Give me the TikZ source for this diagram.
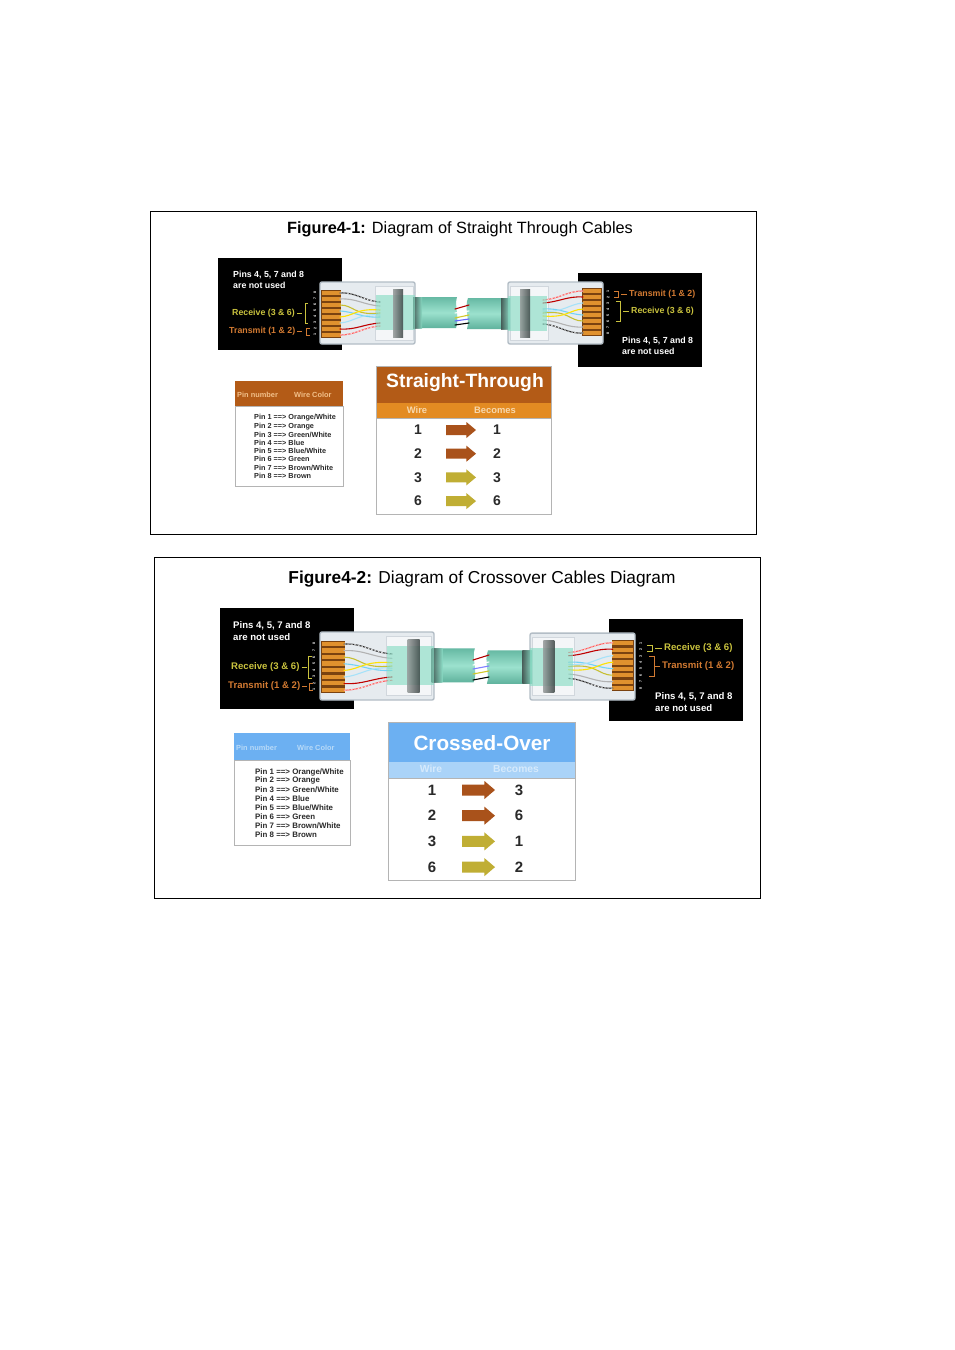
\documentclass[tikz,border=0pt]{standalone}
\usepackage{fontspec}
\setmainfont{Liberation Sans}
\definecolor{plugfill}{HTML}{E6EBEF}
\definecolor{plugin}{HTML}{F4F6F8}
\definecolor{plugedge}{HTML}{B3BDC6}
\definecolor{pinback}{HTML}{7A4210}
\definecolor{pincol}{HTML}{E0912E}
\definecolor{cabteal}{HTML}{8ADCC5}
\definecolor{cabdark}{HTML}{3B8F7B}
\definecolor{bandc}{HTML}{3A4443}
\definecolor{recv}{HTML}{C9C23E}
\definecolor{trans}{HTML}{D27A32}
\definecolor{hdrbrown}{HTML}{B35B17}
\definecolor{subor}{HTML}{E38B22}
\definecolor{subortext}{HTML}{F7D8AE}
\definecolor{hdrtext}{HTML}{F2C08A}
\definecolor{arrbrown}{HTML}{A9521B}
\definecolor{arrolive}{HTML}{C0AE34}
\definecolor{hdrblue}{HTML}{6CB0F2}
\definecolor{subblue}{HTML}{AAD3F8}
\definecolor{subbluetext}{HTML}{D6EAFC}
\definecolor{hdrbluetext}{HTML}{B8DAF8}
\definecolor{tblborder}{HTML}{B4B4B4}
\definecolor{txtdark}{HTML}{2A2A2A}
\tikzset{
  wire/.style={line width=1.1, line cap=round},
  title/.style={inner sep=0, font=\fontsize{16.3}{18}\selectfont},
  titleb/.style={inner sep=0, font=\fontsize{17.3}{19}\selectfont},
  lbl/.style={inner sep=0, anchor=west, font=\fontsize{8.8}{9}\selectfont\bfseries},
  lblb/.style={inner sep=0, anchor=west, font=\fontsize{9.6}{10}\selectfont\bfseries},
  pinline/.style={inner sep=0, anchor=west, text=txtdark, font=\fontsize{7.3}{8}\selectfont\bfseries},
  pinlineb/.style={inner sep=0, anchor=west, text=txtdark, font=\fontsize{7.9}{8}\selectfont\bfseries},
  hdrsmall/.style={inner sep=0, anchor=west, font=\fontsize{7.4}{8}\selectfont\bfseries},
  bigtitle/.style={inner sep=0, text=white, font=\fontsize{19.3}{21}\selectfont\bfseries},
  subtxt/.style={inner sep=0, font=\fontsize{9.4}{10}\selectfont\bfseries},
  subtxtb/.style={inner sep=0, font=\fontsize{10.3}{11}\selectfont\bfseries},
  numA/.style={inner sep=0, text=txtdark, font=\fontsize{14}{15}\selectfont\bfseries},
  numB/.style={inner sep=0, text=txtdark, font=\fontsize{15}{16}\selectfont\bfseries},
  pindig/.style={inner sep=0, text=white, rotate=90, font=\fontsize{3.6}{4}\selectfont\bfseries},
  tbl/.style={fill=white, draw=tblborder, line width=0.8},
}
% block arrow: x, y, width, colour, body half height, head half height
\newcommand{\blockarr}[6]{%
  \fill[#4] (#1,#2-#5) -- ({#1+0.68*#3},#2-#5) -- ({#1+0.68*#3},#2-#6) -- ({#1+#3},#2)
     -- ({#1+0.68*#3},#2+#6) -- ({#1+0.68*#3},#2+#5) -- (#1,#2+#5) -- cycle;}
% RJ45 plug in local units: #1 scope options, #2 cable end (local x), #3 name prefix
\newcommand{\rjplug}[3]{%
\begin{scope}[#1]
  \filldraw[fill=plugfill, draw=plugedge, line width=1.4, rounded corners=2] (0,0) rectangle (95,62);
  \filldraw[fill=plugin, draw=plugedge!60, line width=0.6] (55,4) rectangle (93,58);
  \fill[pinback] (1,8) rectangle (21,56);
  \foreach \i in {0,...,7}{\fill[pincol] (2,9+\i*5.95) rectangle (20.5,12.9+\i*5.95);}
  \foreach \i/\d in {0/8,1/7,2/6,3/5,4/4,5/3,6/2,7/1}{\node[pindig] (#3d\i) at (-5,10.9+\i*5.95) {\d};}
  % wires
  \draw[wire, black!85] (20,11) .. controls (36,10) and (44,19) .. (60,20);
  \draw[wire, white, line width=0.6, dash pattern=on 1.5pt off 2pt] (20,11) .. controls (36,10) and (44,19) .. (60,20);
  \draw[wire, gray!60] (20,17) .. controls (36,16) and (44,23) .. (60,24);
  \draw[wire, yellow!75!black] (20,23) .. controls (34,23) and (34,34) .. (60,31);
  \draw[wire, cyan!55] (20,29) .. controls (36,30) and (42,36) .. (60,35);
  \draw[wire, yellow!85!orange] (20,35) .. controls (34,34) and (36,26) .. (60,28);
  \draw[wire, cyan!35] (20,41) .. controls (34,40) and (40,31) .. (60,33);
  \draw[wire, red!75!black] (20,47) .. controls (36,48) and (44,42) .. (60,41);
  \draw[wire, red!65] (20,53) .. controls (36,53) and (44,45) .. (60,44);
  \draw[wire, white, line width=0.5, dash pattern=on 1.5pt off 2pt] (20,53) .. controls (36,53) and (44,45) .. (60,44);
  % cable outside the plug
  \shade[top color=cabteal!55!cabdark, bottom color=cabteal!45!cabdark, middle color=cabteal!85!white]
     (93,15) -- (#2,15) .. controls ({#2-3},24) and ({#2+3},36) .. ({#2-1},46) -- (93,46) -- cycle;
  \shade[left color=bandc, right color=cabteal, opacity=0.8] (93,15) rectangle (102,46);
  % translucent boot inside the plug
  \fill[cabteal, opacity=0.65] (56,13) rectangle (95,48);
  \shade[left color=bandc!55, right color=bandc, opacity=0.85] (73,7) rectangle (83,55);
\end{scope}}
\begin{document}
\begin{tikzpicture}[x=1pt,y=-1pt]
\useasboundingbox (0,0) rectangle (954,1350);
\fill[white] (0,0) rectangle (954,1350);

%================ Figure 4-1 ================
\draw[line width=0.8] (150,211) rectangle (756,534);
\node[title] (t1) at (460,229) {\textbf{Figure4-1:} Diagram of Straight Through Cables};

% black label boxes
\fill[black] (218,258) rectangle (342,350);
\fill[black] (578,273) rectangle (702,367);

% cable and plugs
\rjplug{shift={(320,282)}}{137}{pa}
\rjplug{shift={(603,344)}, xscale=-1, yscale=-1}{136}{pb}
% wires in the cable break
\draw[wire, red!70!black] (455,309) -- (469,305);
\draw[wire, white] (455,313) -- (469,311);
\draw[wire, yellow!80!black] (455,318) -- (469,315);
\draw[wire, blue!60] (455,321) -- (469,319);
\draw[wire, black] (455,325) -- (469,323);

% labels left
\node[lbl, text=white] (l1a) at (233,275) {Pins 4, 5, 7 and 8};
\node[lbl, text=white] (l1b) at (233,285) {are not used};
\node[lbl, text=recv] (l1r) at (232,313) {Receive (3 \& 6)};
\node[lbl, text=trans] (l1t) at (229,331) {Transmit (1 \& 2)};
\draw[recv, line width=0.6] (l1r.east) ++(2,0) coordinate (l1rc) -- ++(5,0);
\draw[recv, line width=0.6] (308,303) -- (305,303) -- (305,323) -- (308,323);
\draw[trans, line width=0.6] (l1t.east) ++(2,0) coordinate (l1tc) -- ++(5,0);
\draw[trans, line width=0.6] (310,328) -- (306,328) -- (306,335) -- (310,335);
% labels right
\node[lbl, text=trans] (r1t) at (629,294) {Transmit (1 \& 2)};
\node[lbl, text=recv] (r1r) at (631,311) {Receive (3 \& 6)};
\node[lbl, text=white] (r1a) at (622,341) {Pins 4, 5, 7 and 8};
\node[lbl, text=white] (r1b) at (622,351) {are not used};
\draw[trans, line width=0.6] (r1t.west) ++(-2,0) coordinate (r1tc) -- ++(-6,0);
\draw[trans, line width=0.6] (614,291) -- (618,291) -- (618,297) -- (614,297);
\draw[recv, line width=0.6] (r1r.west) ++(-2,0) coordinate (r1rc) -- ++(-6,0);
\draw[recv, line width=0.6] (616,301) -- (620,301) -- (620,321) -- (616,321);

% pin / wire colour table
\fill[hdrbrown] (235,381) rectangle (343,406);
\draw[tbl] (235,406) rectangle (343,486);
\node[hdrsmall, text=hdrtext] (h1a) at (237,395) {Pin number};
\node[hdrsmall, text=hdrtext] (h1b) at (294,395) {Wire Color};
\foreach \i/\t in {0/{Pin 1 ==> Orange/White},1/{Pin 2 ==> Orange},2/{Pin 3 ==> Green/White},3/{Pin 4 ==> Blue},4/{Pin 5 ==> Blue/White},5/{Pin 6 ==> Green},6/{Pin 7 ==> Brown/White},7/{Pin 8 ==> Brown}}{
  \node[pinline] (p1\i) at (254,418+\i*8.25) {\t};}

% Straight-Through table
\fill[hdrbrown] (376,366) rectangle (551,403);
\fill[subor] (376,403) rectangle (551,418);
\draw[tbl] (376,418) rectangle (551,514);
\draw[tblborder, line width=0.8] (376,366) rectangle (551,514);
\node[bigtitle] (st) at (465,383) {Straight-Through};
\node[subtxt, text=subortext] (sw) at (417,410) {Wire};
\node[subtxt, text=subortext] (sb) at (495,410) {Becomes};
\foreach \i/\a/\b/\c in {0/1/1/arrbrown,1/2/2/arrbrown,2/3/3/arrolive,3/6/6/arrolive}{
  \node[numA] (sa\i) at (418,{430+\i*23.7}) {\a};
  \node[numA] (sc\i) at (497,{430+\i*23.7}) {\b};
  \blockarr{446}{430+\i*23.7}{30}{\c}{5}{8}
}

%================ Figure 4-2 ================
\draw[line width=0.8] (154,557) rectangle (760,898);
\node[titleb] (t2) at (482,579) {\textbf{Figure4-2:} Diagram of Crossover Cables Diagram};

\fill[black] (220,608) rectangle (354,709);
\fill[black] (609,619) rectangle (743,721);

\rjplug{shift={(320,632)}, xscale=1.2, yscale=1.097}{129}{pc}
\rjplug{shift={(635,700)}, xscale=-1.105, yscale=-1.08}{134}{pd}
\draw[wire, red!70!black] (473,660) -- (489,655);
\draw[wire, white] (473,665) -- (489,662);
\draw[wire, blue!50] (473,669) -- (489,666);
\draw[wire, yellow!80!black] (473,674) -- (489,671);
\draw[wire, black] (473,680) -- (489,677);

\node[lblb, text=white] (l2a) at (233,626) {Pins 4, 5, 7 and 8};
\node[lblb, text=white] (l2b) at (233,637) {are not used};
\node[lblb, text=recv] (l2r) at (231,667) {Receive (3 \& 6)};
\node[lblb, text=trans] (l2t) at (228,686) {Transmit (1 \& 2)};
\draw[recv, line width=0.6] (l2r.east) ++(2,0) coordinate (l2rc) -- ++(5,0);
\draw[recv, line width=0.6] (312,656) -- (308,656) -- (308,678) -- (312,678);
\draw[trans, line width=0.6] (l2t.east) ++(2,0) coordinate (l2tc) -- ++(5,0);
\draw[trans, line width=0.6] (313,683) -- (309,683) -- (309,690) -- (313,690);

\node[lblb, text=recv] (r2r) at (664,648) {Receive (3 \& 6)};
\node[lblb, text=trans] (r2t) at (662,666) {Transmit (1 \& 2)};
\node[lblb, text=white] (r2a) at (655,697) {Pins 4, 5, 7 and 8};
\node[lblb, text=white] (r2b) at (655,708) {are not used};
\draw[recv, line width=0.6] (r2r.west) ++(-2,0) coordinate (r2rc) -- ++(-7,0);
\draw[recv, line width=0.6] (647,645) -- (652,645) -- (652,651) -- (647,651);
\draw[trans, line width=0.6] (r2t.west) ++(-2,0) coordinate (r2tc) -- ++(-6,0);
\draw[trans, line width=0.6] (649,656) -- (654,656) -- (654,676) -- (649,676);

\fill[hdrblue] (234,733) rectangle (350,760);
\draw[tbl] (234,760) rectangle (350,845);
\node[hdrsmall, text=hdrbluetext] (h2a) at (236,748) {Pin number};
\node[hdrsmall, text=hdrbluetext] (h2b) at (297,748) {Wire Color};
\foreach \i/\t in {0/{Pin 1 ==> Orange/White},1/{Pin 2 ==> Orange},2/{Pin 3 ==> Green/White},3/{Pin 4 ==> Blue},4/{Pin 5 ==> Blue/White},5/{Pin 6 ==> Green},6/{Pin 7 ==> Brown/White},7/{Pin 8 ==> Brown}}{
  \node[pinlineb] (p2\i) at (255,772+\i*8.9) {\t};}

\fill[hdrblue] (388,722) rectangle (575,762);
\fill[subblue] (388,762) rectangle (575,778);
\draw[tbl] (388,778) rectangle (575,880);
\draw[tblborder, line width=0.8] (388,722) rectangle (575,880);
\node[bigtitle, font=\fontsize{20.7}{22}\selectfont\bfseries] (co) at (482,743) {Crossed-Over};
\node[subtxtb, text=subbluetext] (cw) at (431,769) {Wire};
\node[subtxtb, text=subbluetext] (cb) at (516,769) {Becomes};
\foreach \i/\a/\b/\c in {0/1/3/arrbrown,1/2/6/arrbrown,2/3/1/arrolive,3/6/2/arrolive}{
  \node[numB] (ca\i) at (432,{790+\i*25.7}) {\a};
  \node[numB] (cc\i) at (519,{790+\i*25.7}) {\b};
  \blockarr{462}{790+\i*25.7}{33}{\c}{5.5}{9}
}
\end{tikzpicture}
\end{document}
